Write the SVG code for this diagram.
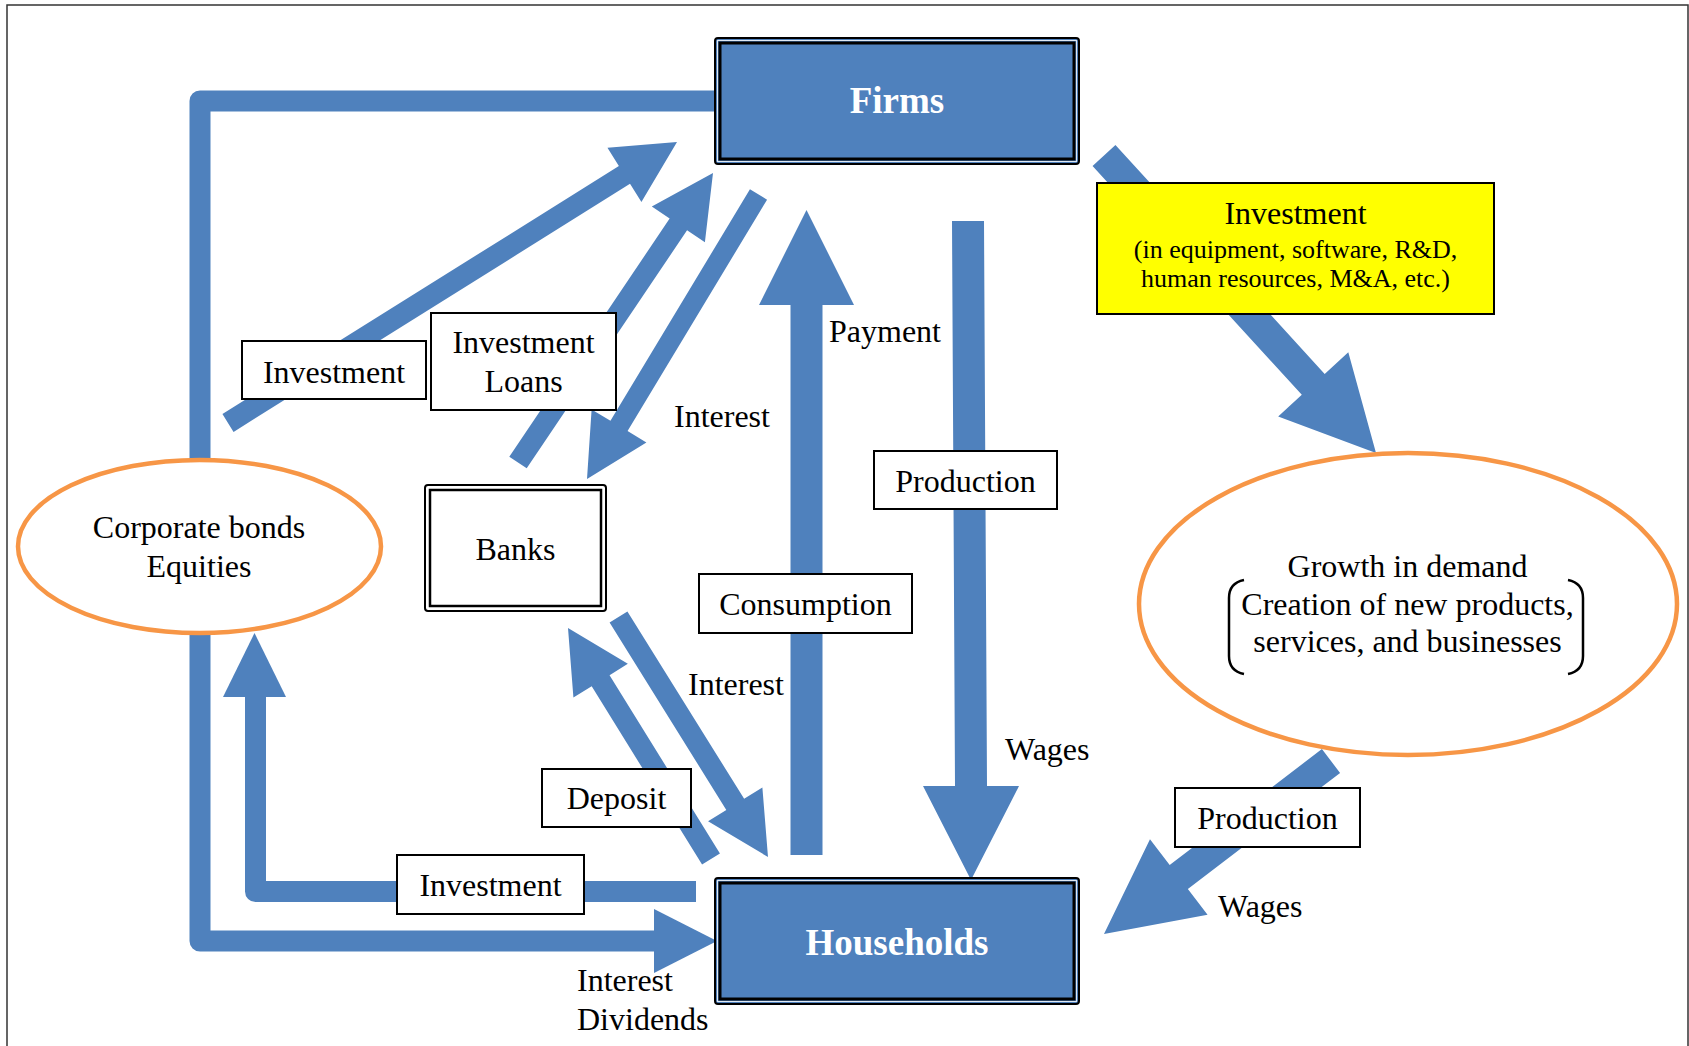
<svg xmlns="http://www.w3.org/2000/svg" width="1689" height="1046" viewBox="0 0 1689 1046">
  <style>
    .flow { fill: #4f81bd; }
    .line { fill: none; stroke: #4f81bd; stroke-width: 21; stroke-linejoin: round; }
    .lbl { fill: #ffffff; stroke: #000000; stroke-width: 2; }
    .t { font-family: "Liberation Serif", "Times New Roman", serif; font-size: 32px; fill: #000000; }
    .c { text-anchor: middle; }
    .big { font-family: "Liberation Serif", "Times New Roman", serif; font-size: 37px; font-weight: bold; fill: #ffffff; text-anchor: middle; }
    .small { font-family: "Liberation Serif", "Times New Roman", serif; font-size: 26px; fill: #000000; text-anchor: middle; }
    .oval { fill: #ffffff; stroke: #f79646; stroke-width: 4.5; }
    .outerbox { stroke: #000000; stroke-width: 2; }
    .innerbox { fill: none; stroke: #000000; stroke-width: 3; }
  </style>

  <rect x="7" y="5" width="1681" height="1060" fill="#ffffff" stroke="#333333" stroke-width="1.5"/>

  <g id="connectors">
    <!-- Firms -> Corporate bonds (top L) -->
    <path class="line" d="M715,101 H200 V460"/>
    <!-- Corporate bonds -> Households (bottom L with arrow) -->
    <path class="line" d="M200,633 V941 H656"/>
    <polygon class="flow" points="654,909 717,941 654,973"/>
    <!-- Households -> Corporate bonds (inner L with arrow) -->
    <path class="line" d="M696,891.5 H255.5 V696"/>
    <polygon class="flow" points="223,697 254.5,633 286,697"/>
    <!-- Investment (corporate bonds -> firms) -->
    <polygon class="flow" points="233.57,431.90 630.01,183.79 641.42,202.02 677,142 607.46,147.76 618.87,165.99 222.43,414.10"/>
    <!-- Investment Loans (banks -> firms) -->
    <polygon class="flow" points="526.71,468.37 687.07,230.29 704.90,242.30 713,173 651.82,206.54 669.65,218.55 509.29,456.63"/>
    <!-- Interest (firms -> banks) -->
    <polygon class="flow" points="749.94,189.34 610.45,420.74 591.61,409.38 587,479 646.41,442.42 627.57,431.06 767.06,199.66"/>
    <!-- Payment / Consumption (households -> firms) -->
    <polygon class="flow" points="790.5,855 790.5,305 759,305 806.5,210 854,305 822.5,305 822.5,855"/>
    <!-- Production / Wages (firms -> households) -->
    <polygon class="flow" points="952,221 984,221 987,786 1019,786 971,880 923,786 955,786"/>
    <!-- Deposit (households -> banks) -->
    <polygon class="flow" points="719.93,853.47 609.56,675.18 627.84,663.87 568,628 573.42,697.55 591.70,686.24 702.07,864.53"/>
    <!-- Interest (banks -> households) -->
    <polygon class="flow" points="609.59,622.55 726.31,809.92 708.06,821.29 768,857 762.38,787.45 744.13,798.82 627.41,611.45"/>
    <!-- Investment (firms -> growth) -->
    <polygon class="flow" points="1092.56,165.96 1301.80,394.83 1278.18,416.42 1376,453 1348.30,352.32 1324.68,373.91 1115.44,145.04"/>
    <!-- Production / Wages (growth -> households) -->
    <polygon class="flow" points="1321.91,749.07 1169.68,865.09 1149.98,839.24 1104,934 1207.56,914.80 1187.86,888.95 1340.09,772.93"/>
  </g>

  <g id="firms">
    <rect class="outerbox" x="715" y="38" width="364" height="126" rx="3" fill="#4f81bd"/>
    <rect x="717.5" y="40.5" width="359" height="121" fill="none" stroke="#dfe8f3" stroke-width="1"/>
    <rect class="innerbox" x="720" y="43" width="354" height="116"/>
    <text class="big" x="897" y="113">Firms</text>
  </g>

  <g id="households">
    <rect class="outerbox" x="715" y="878" width="364" height="126" rx="3" fill="#4f81bd"/>
    <rect x="717.5" y="880.5" width="359" height="121" fill="none" stroke="#dfe8f3" stroke-width="1"/>
    <rect class="innerbox" x="720" y="883" width="354" height="116"/>
    <text class="big" x="897" y="955">Households</text>
  </g>

  <g id="banks">
    <rect x="425" y="485" width="181" height="126" rx="3" fill="#ffffff" stroke="#000000" stroke-width="2"/>
    <rect x="430" y="490" width="171" height="116" fill="none" stroke="#000000" stroke-width="2.5"/>
    <text class="t c" x="515.5" y="560">Banks</text>
  </g>

  <g id="corporate-bonds">
    <ellipse class="oval" cx="199.5" cy="546.5" rx="181.5" ry="86.5"/>
    <text class="t c" x="199" y="538">Corporate bonds</text>
    <text class="t c" x="199" y="577">Equities</text>
  </g>

  <g id="growth">
    <ellipse class="oval" cx="1408" cy="604" rx="269" ry="151"/>
    <text class="t c" x="1407.5" y="577">Growth in demand</text>
    <text class="t c" x="1407.5" y="615">Creation of new products,</text>
    <text class="t c" x="1407.5" y="652">services, and businesses</text>
    <path d="M1244,580 Q1229,583 1229,598 L1229,656 Q1229,671 1244,674" fill="none" stroke="#000000" stroke-width="2.5"/>
    <path d="M1568,580 Q1583,583 1583,598 L1583,656 Q1583,671 1568,674" fill="none" stroke="#000000" stroke-width="2.5"/>
  </g>

  <g id="investment-firms-growth">
    <rect x="1097" y="183" width="397" height="131" fill="#ffff00" stroke="#000000" stroke-width="2"/>
    <text class="t c" x="1295.5" y="224">Investment</text>
    <text class="small" x="1295.5" y="258">(in equipment, software, R&amp;D,</text>
    <text class="small" x="1295.5" y="287">human resources, M&amp;A, etc.)</text>
  </g>

  <g id="label-investment-top">
    <rect class="lbl" x="242" y="341" width="184" height="58"/>
    <text class="t c" x="334" y="383">Investment</text>
  </g>

  <g id="label-investment-loans">
    <rect class="lbl" x="431" y="313" width="185" height="97"/>
    <text class="t c" x="523.5" y="353">Investment</text>
    <text class="t c" x="523.5" y="392">Loans</text>
  </g>

  <g id="label-production-mid">
    <rect class="lbl" x="874" y="451" width="183" height="58"/>
    <text class="t c" x="965.5" y="492">Production</text>
  </g>

  <g id="label-consumption">
    <rect class="lbl" x="699" y="574" width="213" height="59"/>
    <text class="t c" x="805.5" y="615">Consumption</text>
  </g>

  <g id="label-deposit">
    <rect class="lbl" x="542" y="769" width="149" height="58"/>
    <text class="t c" x="616.5" y="809">Deposit</text>
  </g>

  <g id="label-investment-bottom">
    <rect class="lbl" x="397" y="855" width="187" height="59"/>
    <text class="t c" x="490.5" y="896">Investment</text>
  </g>

  <g id="label-production-right">
    <rect class="lbl" x="1175" y="788" width="185" height="59"/>
    <text class="t c" x="1267.5" y="829">Production</text>
  </g>

  <g id="free-labels">
    <text class="t" x="829" y="342">Payment</text>
    <text class="t" x="674" y="427">Interest</text>
    <text class="t" x="688" y="695">Interest</text>
    <text class="t" x="1005" y="760">Wages</text>
    <text class="t" x="1218" y="917">Wages</text>
    <text class="t" x="577" y="991">Interest</text>
    <text class="t" x="577" y="1030">Dividends</text>
  </g>
</svg>
